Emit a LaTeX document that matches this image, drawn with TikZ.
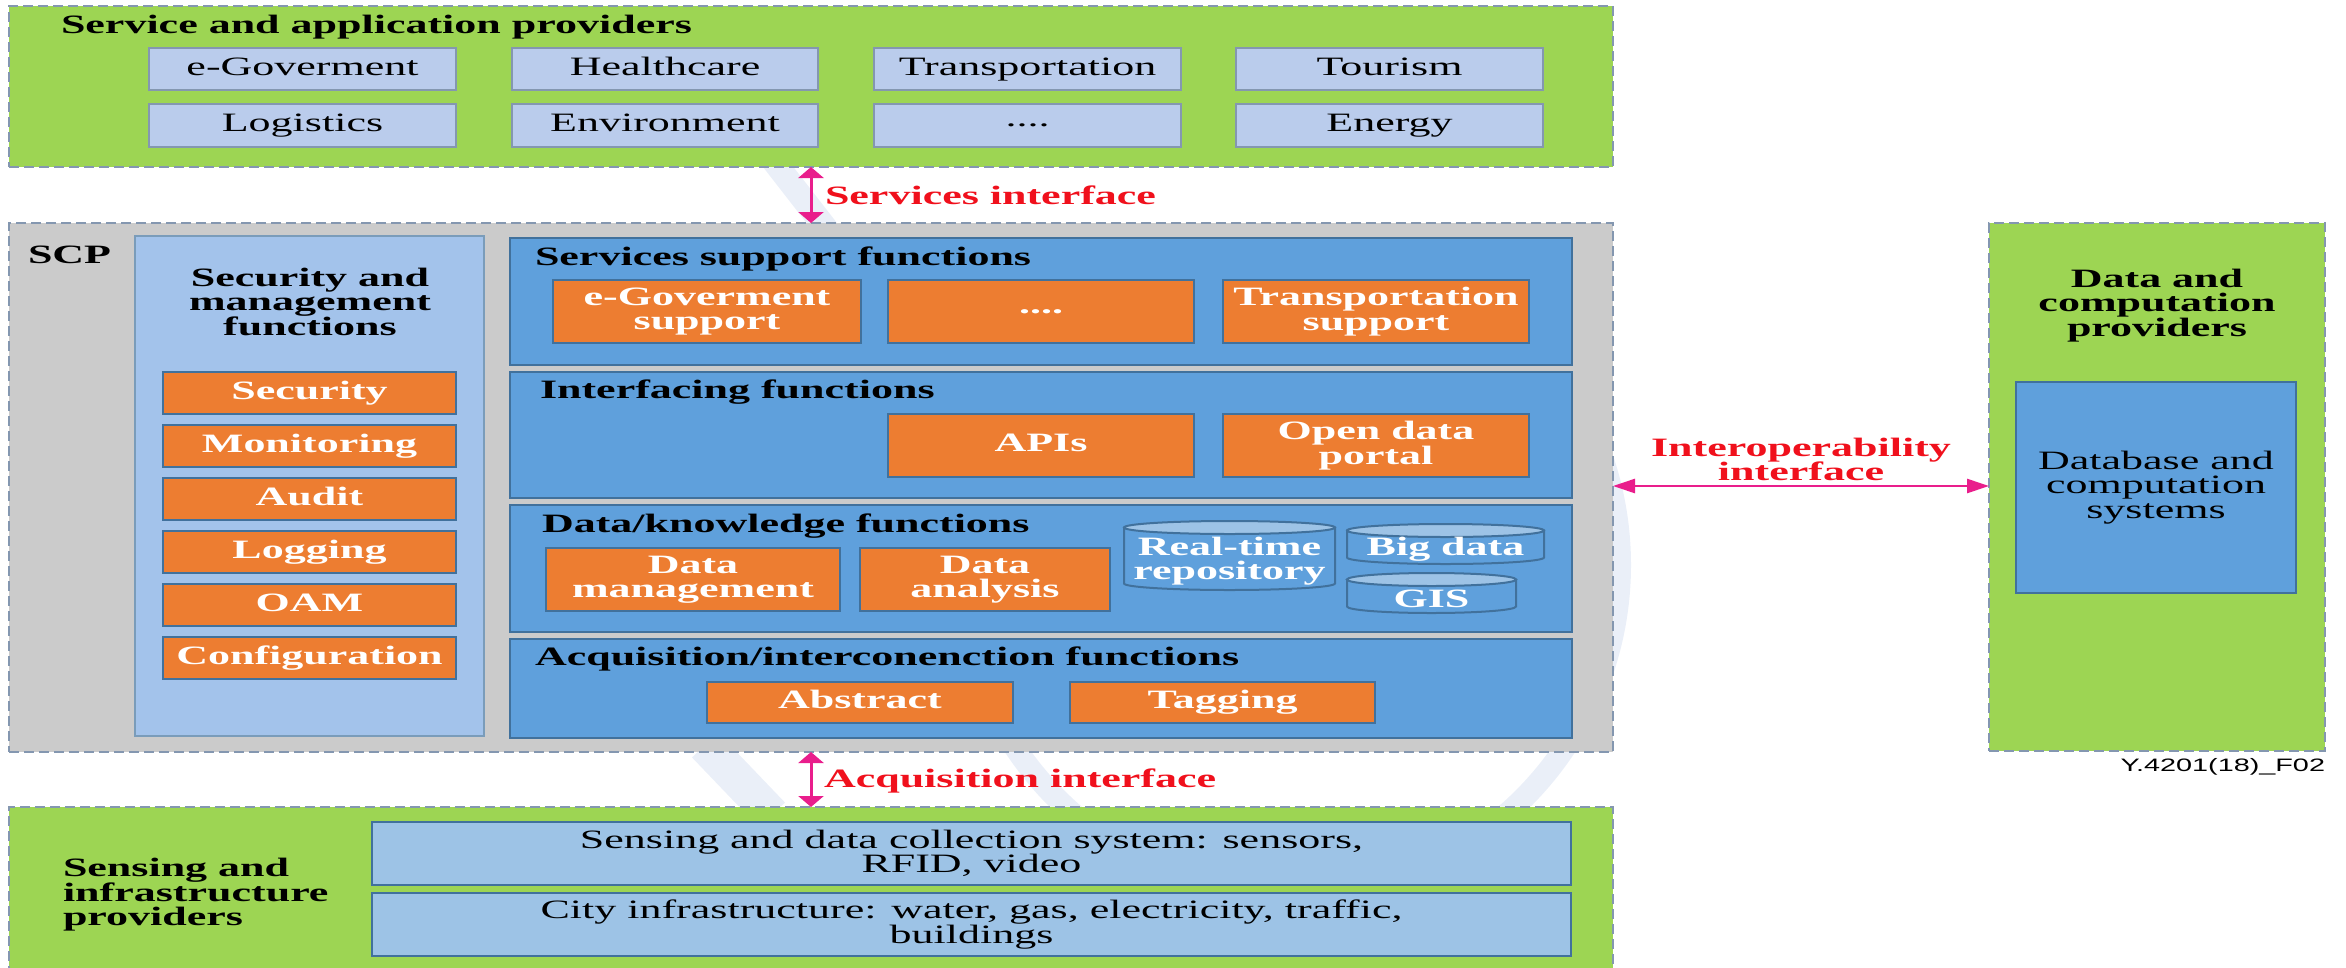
\documentclass[tikz,border=0pt]{standalone}
\usepackage{fontspec}
\setmainfont{Liberation Serif}[FakeStretch=1.66]
\newfontfamily\labelsans{Liberation Sans}[FakeStretch=1.6]
\usetikzlibrary{arrows.meta}

\definecolor{provgreen}{HTML}{9DD553}
\definecolor{dashgray}{HTML}{8497B0}
\definecolor{appblue}{HTML}{BACCEC}
\definecolor{scpgray}{HTML}{CBCBCB}
\definecolor{mgmtblue}{HTML}{A3C3EB}
\definecolor{funcblue}{HTML}{5FA0DC}
\definecolor{funcedge}{HTML}{41719C}
\definecolor{taskorange}{HTML}{ED7D31}
\definecolor{storetop}{HTML}{9DC3E6}
\definecolor{infrablue}{HTML}{9DC3E6}
\definecolor{linkpink}{HTML}{E91E8C}
\definecolor{ifred}{HTML}{F0101C}
\definecolor{watermark}{HTML}{EAEFF8}

% rectangle node given by its corners: style, name, x1, y1, x2, y2, text
\newcommand\blk[7]{\node[#1, minimum width={#5-#3}, minimum height={#6-#4}] (#2) at ({(#3+#5)/2},{(#4+#6)/2}) {#7};}
% storage cylinder: name, x1, top-ellipse centre y, x2, bottom-ellipse centre y
\newcommand\store[5]{%
  \pgfmathsetlengthmacro\storerx{(#4-#2)/2*1pt}%
  \path[storebody] (#2,#3) -- (#2,#5) arc[start angle=180,end angle=360,x radius=\storerx,y radius=6.5pt] -- (#4,#3) -- cycle;
  \path[storecap] ({(#2+#4)/2},#3) ellipse[x radius=\storerx,y radius=6.5pt];
  \coordinate (#1) at ({(#2+#4)/2},{(#3+#5)/2});}

\begin{document}
\begin{tikzpicture}[x=1pt,y=-1pt,
  every node/.style={inner sep=0pt, outer sep=0pt, font=\fontsize{26.5}{24.5}\selectfont},
  region/.style={draw=dashgray, line width=2.2pt, dash pattern=on 10pt off 5pt},
  provider/.style={region, fill=provgreen},
  platform/.style={region, fill=scpgray},
  oneline/.style={text height=18pt, text depth=5.5pt},
  appbox/.style={draw=dashgray, line width=2.4pt, fill=appblue, align=center},
  mgmtbox/.style={draw=funcedge!70, line width=2.4pt, fill=mgmtblue},
  funcbox/.style={draw=funcedge, line width=2.4pt, fill=funcblue},
  taskbox/.style={draw=funcedge, line width=2.4pt, fill=taskorange, text=white,
    font=\bfseries\fontsize{26.5}{24.5}\selectfont, align=center},
  infrabox/.style={draw=funcedge, line width=2.4pt, fill=infrablue, align=center},
  heading/.style={font=\bfseries\fontsize{26.5}{24}\selectfont, anchor=base west},
  blocktitle/.style={font=\bfseries\fontsize{26.5}{24}\selectfont, align=center, anchor=north},
  storebody/.style={draw=funcedge, line width=2pt, fill=funcblue},
  storecap/.style={draw=funcedge, line width=2pt, fill=storetop},
  storetext/.style={text=white, font=\bfseries\fontsize{26.5}{24.5}\selectfont, align=center},
  iflabel/.style={text=ifred, font=\bfseries\fontsize{26.5}{24.5}\selectfont},
  vlink/.style={draw=linkpink, line width=3pt,
    {Triangle[length=11pt,width=25pt]}-{Triangle[length=11pt,width=25pt]}},
  hlink/.style={draw=linkpink, line width=2.6pt,
    {Triangle[length=22pt,width=14pt]}-{Triangle[length=22pt,width=14pt]}},
]
\useasboundingbox (0,0) rectangle (2346,967);
\clip (0,0) rectangle (2346,967);

% faint emblem in the background
\draw[watermark, line width=22pt] (1290,565) circle[radius=330pt];
\draw[watermark, line width=24pt] (765,150) -- (835,240);
\draw[watermark, line width=36pt] (705,745) -- (772,815);

% provider and platform regions
\blk{provider}{sap}{9}{6}{1613}{167}{}
\blk{platform}{scp}{9}{223}{1613}{752}{}
\blk{provider}{dcp}{1989}{223}{2325}{751}{}
\blk{provider}{sip}{9}{807}{1613}{995}{}

% service and application providers
\node[heading] (sapT) at (61,33) {Service and application providers};
\blk{appbox,oneline}{egov}{149}{48}{456}{90}{e-Goverment}
\blk{appbox,oneline}{health}{512}{48}{818}{90}{Healthcare}
\blk{appbox,oneline}{transp}{874}{48}{1181}{90}{Transportation}
\blk{appbox,oneline}{tour}{1236}{48}{1543}{90}{Tourism}
\blk{appbox,oneline}{logi}{149}{104}{456}{147}{Logistics}
\blk{appbox,oneline}{env}{512}{104}{818}{147}{Environment}
\blk{appbox}{appmore}{874}{104}{1181}{147}{....}
\blk{appbox,oneline}{energy}{1236}{104}{1543}{147}{Energy}

% SCP
\node[heading] (scpT) at (28,263) {SCP};

% security and management column
\blk{mgmtbox}{mgmt}{135}{236}{484}{736}{}
\node[blocktitle] (mgmtT) at (310,268) {Security and\\management\\functions};
\blk{taskbox,oneline}{sec}{163}{372}{456}{414}{Security}
\blk{taskbox,oneline}{mon}{163}{425}{456}{467}{Monitoring}
\blk{taskbox,oneline}{aud}{163}{478}{456}{520}{Audit}
\blk{taskbox,oneline}{logg}{163}{531}{456}{573}{Logging}
\blk{taskbox,oneline}{oam}{163}{584}{456}{626}{OAM}
\blk{taskbox,oneline}{conf}{163}{637}{456}{679}{Configuration}

% functional layers
\blk{funcbox}{ssf}{510}{238}{1572}{365}{}
\blk{funcbox}{inf}{510}{372}{1572}{498}{}
\blk{funcbox}{dkf}{510}{505}{1572}{632}{}
\blk{funcbox}{aqf}{510}{639}{1572}{738}{}
\node[heading] (ssfT) at (535,265) {Services support functions};
\node[heading] (infT) at (540,398) {Interfacing functions};
\node[heading] (dkfT) at (542,532) {Data/knowledge functions};
\node[heading] (aqfT) at (535,665) {Acquisition/interconenction functions};

\blk{taskbox}{egovS}{553}{280}{861}{343}{e-Goverment\\support}
\blk{taskbox}{moreS}{888}{280}{1194}{343}{....}
\blk{taskbox}{transpS}{1223}{280}{1529}{343}{Transportation\\support}
\blk{taskbox,oneline}{apis}{888}{414}{1194}{477}{APIs}
\blk{taskbox}{odp}{1223}{414}{1529}{477}{Open data\\portal}
\blk{taskbox}{dman}{546}{548}{840}{611}{Data\\management}
\blk{taskbox}{dana}{860}{548}{1110}{611}{Data\\analysis}
\blk{taskbox,oneline}{abstr}{707}{682}{1013}{723}{Abstract}
\blk{taskbox,oneline}{tagg}{1070}{682}{1375}{723}{Tagging}

% data stores
\store{rtr}{1124}{527.5}{1335}{583.5}
\store{bigd}{1347}{530.5}{1544}{557.5}
\store{gis}{1347}{579.5}{1516}{606.5}
\node[storetext, anchor=north] (rtrT) at (1229.5,537) {Real-time\\repository};
\node[storetext, anchor=base] (bigdT) at (1445.5,555) {Big data};
\node[storetext, anchor=base] (gisT) at (1431.5,607) {GIS};

% data and computation providers
\node[blocktitle] (dcpT) at (2157,269) {Data and\\computation\\providers};
\blk{funcbox, align=center}{dbs}{2016}{382}{2296}{593}{Database and\\computation\\systems}

% sensing and infrastructure providers
\node[heading, anchor=north west, align=left] (sipT) at (63,858) {Sensing and\\infrastructure\\providers};
\blk{infrabox}{sense}{372}{822}{1571}{885}{Sensing and data collection system: sensors,\\RFID, video}
\blk{infrabox}{city}{372}{893}{1571}{956}{City infrastructure: water, gas, electricity, traffic,\\buildings}

% interfaces
\coordinate (ifx) at (811,500);
\coordinate (ioy) at (1800,486);
\draw[vlink] (ifx |- sap.south) -- (ifx |- scp.north);
\draw[vlink] (ifx |- scp.south) -- (ifx |- sip.north);
\draw[hlink] (ioy -| scp.east) -- (ioy -| dcp.west);
\node[iflabel, anchor=base west] (svcL) at (825,204) {Services interface};
\node[iflabel, anchor=base west] (acqL) at (824,787) {Acquisition interface};
\node[iflabel, align=center, anchor=north] (ioL) at (1801,438) {Interoperability\\interface};

\node[font=\labelsans\fontsize{18}{18}\selectfont, anchor=base east] (figid) at (2325,771) {Y.4201(18)\_F02};
\end{tikzpicture}
\end{document}
